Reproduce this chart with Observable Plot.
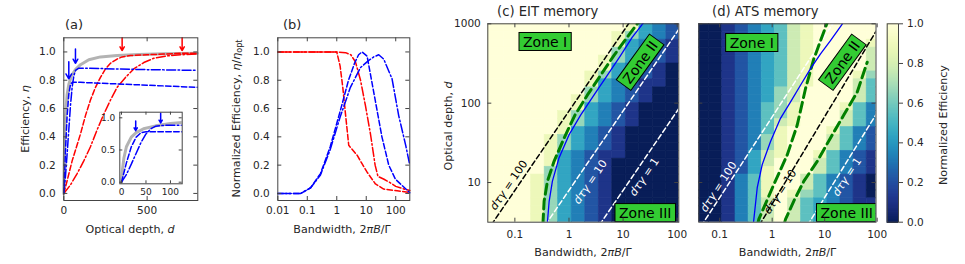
<!DOCTYPE html>
<html><head><meta charset="utf-8">
<script src="https://cdn.jsdelivr.net/npm/d3@7"></script>
<script src="https://cdn.jsdelivr.net/npm/@observablehq/plot@0.6"></script>
<style>
body{margin:0;background:#fff;font-family:"DejaVu Sans",sans-serif;}
#root{position:relative;width:965px;height:264px;overflow:hidden;background:#fff;}
#root svg{position:absolute;left:0;top:0;}
</style></head>
<body><div id="root"></div>
<script>
// ---------------- data ----------------
const aTicksX = [0, 500];
const aTicksY = [0, 0.2, 0.4, 0.6, 0.8, 1.0];
const insetTicksX = [0, 50, 100];
const insetTicksY = [0, 0.5, 1.0];
const bTicksX = [0.01, 0.1, 1, 10, 100];
const hTicksX = [0.1, 1, 10, 100];
const hTicksY = [10, 100, 1000];
const cbTicks = [0, 0.2, 0.4, 0.6, 0.8, 1.0];

// panel (a): [optical depth d, efficiency]
const aGray = [[0,0],[2,0.2],[5,0.38],[10,0.55],[20,0.7],[30,0.77],[45,0.83],[70,0.875],[100,0.91],[150,0.945],[220,0.965],[320,0.975],[450,0.982],[600,0.987],[800,0.99]];
const aRedDash = [[0,0],[20,0.09],[50,0.23],[100,0.42],[130,0.55],[160,0.66],[190,0.75],[220,0.82],[250,0.88],[280,0.92],[320,0.95],[350,0.965],[400,0.975],[500,0.98],[600,0.985],[700,0.99],[800,0.99]];
const aRedDashDot = [[0,0],[40,0.06],[80,0.14],[120,0.23],[160,0.33],[200,0.45],[240,0.56],[280,0.66],[320,0.75],[370,0.82],[420,0.88],[480,0.925],[540,0.955],[620,0.972],[700,0.98],[800,0.985]];
const aBlueDashDot = [[0,0],[10,0.12],[20,0.28],[30,0.45],[40,0.62],[50,0.75],[60,0.83],[70,0.87],[90,0.885],[150,0.885],[300,0.88],[500,0.875],[800,0.87]];
const aBlueDash = [[0,0],[5,0.15],[10,0.3],[20,0.55],[30,0.7],[40,0.77],[50,0.785],[100,0.785],[300,0.775],[500,0.765],[800,0.75]];
const aArrowsBlue = [{d:30, from:0.93, to:0.81}, {d:70, from:1.02, to:0.92}];
const aArrowsRed = [{d:350, from:1.10, to:1.01}, {d:710, from:1.10, to:1.01}];
const insetArrows = [{d:29, from:0.95, to:0.80}, {d:80, from:1.07, to:0.92}];

// panel (b): [bandwidth, normalized efficiency]
const bRedDash = [[0.01,1],[0.1,1],[0.5,1],[1.0,1],[1.3,0.9],[1.6,0.75],[2.0,0.55],[2.55,0.34],[4.9,0.27],[7.2,0.21],[10.7,0.15],[20.5,0.067],[39,0.031],[112,0.019],[300,0.007]];
const bRedDashDot = [[0.01,1],[1.0,1],[2.0,0.995],[3.0,0.98],[4.3,0.93],[6.4,0.8],[9.4,0.62],[13.9,0.42],[20,0.2],[25,0.12],[40,0.1],[60,0.08],[100,0.05],[200,0.03],[300,0.02]];
const bBlueDash = [[0.01,0],[0.06,0],[0.13,0.04],[0.28,0.14],[0.6,0.33],[1.3,0.58],[2.5,0.8],[4.0,0.92],[5.5,0.98],[7.2,1.0],[10.7,0.97],[20.5,0.65],[34,0.4],[58,0.2],[98,0.1],[300,0.005]];
const bBlueDashDot = [[0.01,0],[0.06,0],[0.13,0.04],[0.28,0.13],[0.6,0.31],[1.3,0.54],[2.9,0.75],[6.4,0.89],[12.2,0.94],[18,0.965],[26.5,0.98],[39,0.95],[75,0.81],[126,0.55],[218,0.34],[300,0.2]];

// heat maps: cell edges and efficiency codes (digit/9), rows listed from top (d=1000) to bottom
const bwEdges = [0.02,0.0355,0.0631,0.112,0.2,0.355,0.631,1.12,2.0,3.55,6.31,11.2,20,35.5,63.1,112];
const dEdges = [3.16,3.98,5.01,6.31,7.94,10,12.6,15.8,20,25.1,31.6,39.8,50.1,63.1,79.4,100,126,158,200,251,316,398,501,631,794,1000];
const eitRows = [
"999999999998432","999999999986432","999999999984321","999999999964321","999999999864321",
"999999999843210","999999998643210","999999998432110","999999996432100","999999986432100",
"999999984321000","999999864321000","999999864321000","999999843210000","999998643210000",
"999998643210000","999998432110000","999998432100000","999996432100000","999986432100000",
"999986432100000","999986432100000","999986432100000","999986432100000","999986432100000"];
const atsRows = [
"000123457899999","000123457899999","000123457899998","000123457899997","000123457899997",
"000123457899997","000123457899986","000123457899975","000123467999975","000123467999975",
"000123568999853","000123568999753","000123578999753","000123589998532","000123689997532",
"000123689997532","000124789985321","000124799975321","000124899975321","000135899753210",
"000135899753210","000135898653210","000135797543211","000135797543211","000135797543211"];

// curves on heat maps: [bandwidth, d]
const cBlue = [[0.397,3.0],[0.43,5.8],[0.494,10.4],[0.654,20.4],[1.0,39.8],[1.64,70.8],[2.89,126],[5.1,224],[8.96,398],[14.7,676],[24,1037]];
const cGreen = [[0.33,3.0],[0.347,5.8],[0.40,10.4],[0.53,18.5],[0.81,36.2],[1.29,70.8],[2.18,126],[3.84,224],[6.74,398],[11.9,676],[20.3,1100]];
const cLine100 = [[0.0251,2.0],[15.85,1259]];
const cLine10 = [[0.251,2.0],[158,1259]];
const cLine1 = [[2.51,2.0],[158,126]];
const dBlue = [[0.44,3.1],[0.519,8.6],[0.646,16.8],[0.93,32.8],[1.44,64.4],[2.24,104],[3.46,168],[5.38,272],[8.34,418],[12.9,613],[21.6,991]];
const dGreenL = [[0.53,3.0],[0.557,3.45],[1.075,9.44],[1.94,22.4],[3.0,53],[4.32,153],[6.21,361],[11.2,1037]];
const dGreenR = [[1.72,3.1],[1.80,3.45],[2.58,5.84],[4.01,10.4],[7.21,18.5],[12.9,36.5],[23.1,70.8],[41.7,138],[64.6,328]];
const dLine100 = [[0.0443,2.82],[15.5,1090]];
const dLine10 = [[0.57,2.9],[116,1000]];
const dLine1 = [[4.72,2.9],[110,84]];

// annotations (positions in data units)
const cZones = [{text:"Zone I", b:0.37, d:590, rot:0},{text:"Zone II", b:21.1, d:323, rot:-54},{text:"Zone III", b:26.2, d:4.12, rot:0}];
const dZones = [{text:"Zone I", b:0.417, d:573, rot:0},{text:"Zone II", b:22.2, d:323, rot:-54},{text:"Zone III", b:26.9, d:4.12, rot:0}];
const cLabels = [{n:"100", b:0.078, d:9.2, color:"#000", rot:-55.7},{n:"10", b:2.51, d:10.1, color:"#fff", rot:-55.7},{n:"1", b:25, d:11.7, color:"#fff", rot:-55.7}];
const dLabels = [{n:"100", b:0.096, d:8.75, color:"#fff", rot:-57},{n:"10", b:1.44, d:7.57, color:"#000", rot:-57},{n:"1", b:26.9, d:11.7, color:"#fff", rot:-57}];

// ---------------- helpers ----------------
const root = document.getElementById("root");
const FW = 965, FH = 264;
const AX = "#444";
function fm(l, t, r, b){ return {width: FW, height: FH, marginLeft: l, marginTop: t, marginRight: FW - r, marginBottom: FH - b}; }
const baseStyle = {background: "transparent", fontFamily: "DejaVu Sans, sans-serif", fontSize: "10.5px", color: "#262626", overflow: "visible"};
function inTicks(xt, yt, fw, fh, len) {
  return [
    Plot.tickX(xt, {x: d => d, insetTop: fh - len, stroke: AX}),
    Plot.tickX(xt, {x: d => d, insetBottom: fh - len, stroke: AX}),
    Plot.tickY(yt, {y: d => d, insetLeft: fw - len, stroke: AX}),
    Plot.tickY(yt, {y: d => d, insetRight: fw - len, stroke: AX})
  ];
}
const XY = {x: d => d[0], y: d => d[1]};
const DASH = "5.5,2.4", DASHDOT = "9,2.4,1.6,2.4";
const heatColor = {type: "linear", domain: [0, 1], interpolate: t => d3.interpolateYlGnBu(1 - t)};
function cells(rows) {
  const out = [];
  rows.forEach((row, i) => {
    const r = dEdges.length - 2 - i;
    for (let j = 0; j < row.length; j++) out.push({x1: bwEdges[j], x2: bwEdges[j + 1], y1: dEdges[r], y2: dEdges[r + 1], v: +row[j] / 9});
  });
  return out;
}
const CW = {Z:.685,o:.612,n:.634,e:.615," ":.318,I:.295};
function annot(zones, labels, id) {
  return (index, scales, values, dims) => {
    const {x, y} = scales;
    const g = d3.create("svg:g");
    const w = dims.width - dims.marginLeft - dims.marginRight, h = dims.height - dims.marginTop - dims.marginBottom;
    g.append("clipPath").attr("id", id).append("rect").attr("x", dims.marginLeft).attr("y", dims.marginTop).attr("width", w).attr("height", h);
    const inner = g.append("g").attr("clip-path", `url(#${id})`).attr("font-family", "DejaVu Sans, sans-serif");
    for (const L of labels) {
      const t = inner.append("text").attr("transform", `translate(${x(L.b)},${y(L.d)}) rotate(${L.rot})`)
        .attr("text-anchor", "middle").attr("dy", "0.35em").attr("font-size", 11).attr("fill", L.color);
      t.append("tspan").attr("font-style", "italic").text("dτγ");
      t.append("tspan").text(" = " + L.n);
    }
    for (const z of zones) {
      const fs = 14;
      let tw = 0; for (const ch of z.text) tw += (CW[ch] || 0.6) * fs;
      const bw = tw + 8, bh = 18;
      const zg = inner.append("g").attr("transform", `translate(${x(z.b)},${y(z.d)}) rotate(${z.rot})`);
      zg.append("rect").attr("x", -bw / 2).attr("y", -bh / 2).attr("width", bw).attr("height", bh)
        .attr("fill", "#33cc33").attr("stroke", "#000").attr("stroke-width", 1);
      zg.append("text").attr("text-anchor", "middle").attr("dy", "0.36em").attr("font-size", fs).attr("fill", "#000").text(z.text);
    }
    return g.node();
  };
}

// ---------------- panel (a) ----------------
const aL = 63.3, aT = 37.3, aR = 197.3, aB = 200;
root.appendChild(Plot.plot({
  ...fm(aL, aT, aR, aB), style: baseStyle,
  x: {domain: [0, 804]}, y: {domain: [-0.05, 1.1]},
  marks: [
    Plot.line(aGray, {...XY, stroke: "#b3b3b3", strokeWidth: 3}),
    Plot.line(aRedDash, {...XY, stroke: "#ff0000", strokeWidth: 1.5, strokeDasharray: DASH}),
    Plot.line(aRedDashDot, {...XY, stroke: "#ff0000", strokeWidth: 1.5, strokeDasharray: DASHDOT}),
    Plot.line(aBlueDashDot, {...XY, stroke: "#0000ff", strokeWidth: 1.5, strokeDasharray: DASHDOT}),
    Plot.line(aBlueDash, {...XY, stroke: "#0000ff", strokeWidth: 1.5, strokeDasharray: DASH}),
    Plot.arrow(aArrowsBlue, {x1: "d", x2: "d", y1: "from", y2: "to", stroke: "#0000ff", strokeWidth: 1.5, headLength: 6}),
    Plot.arrow(aArrowsRed, {x1: "d", x2: "d", y1: "from", y2: "to", stroke: "#ff0000", strokeWidth: 1.5, headLength: 6}),
    Plot.frame({stroke: AX}),
    ...inTicks(aTicksX, aTicksY, aR - aL, aB - aT, 4),
    Plot.axisX({ticks: aTicksX, tickSize: 0, tickPadding: 6.5, label: null}),
    Plot.axisY({ticks: aTicksY, tickSize: 0, tickPadding: 8, tickFormat: d3.format(".1f"), label: null})
  ]
}));
// inset
const iL = 119.3, iT = 111.7, iR = 181.7, iB = 183.3;
root.appendChild(Plot.plot({
  ...fm(iL, iT, iR, iB), style: {...baseStyle, fontSize: "9px"},
  x: {domain: [-3.5, 124]}, y: {domain: [-0.025, 1.087]},
  marks: [
    Plot.frame({fill: "#fff", stroke: "none"}),
    Plot.line(aGray, {...XY, stroke: "#b3b3b3", strokeWidth: 3, clip: true}),
    Plot.line(aBlueDashDot, {...XY, stroke: "#0000ff", strokeWidth: 1.5, strokeDasharray: DASHDOT, clip: true}),
    Plot.line(aBlueDash, {...XY, stroke: "#0000ff", strokeWidth: 1.5, strokeDasharray: DASH, clip: true}),
    Plot.arrow(insetArrows, {x1: "d", x2: "d", y1: "from", y2: "to", stroke: "#0000ff", strokeWidth: 1.5, headLength: 5}),
    Plot.frame({stroke: AX}),
    ...inTicks(insetTicksX, insetTicksY, iR - iL, iB - iT, 3),
    Plot.axisX({ticks: insetTicksX, tickSize: 0, tickPadding: 5, label: null}),
    Plot.axisY({ticks: insetTicksY, tickSize: 0, tickPadding: 4.5, tickFormat: d3.format(".1f"), label: null})
  ]
}));

// ---------------- panel (b) ----------------
const bL = 277.3, bT = 37.3, bR = 409.3, bB = 200;
root.appendChild(Plot.plot({
  ...fm(bL, bT, bR, bB), style: baseStyle,
  x: {type: "log", domain: [0.01, 300]}, y: {domain: [-0.05, 1.1]},
  marks: [
    Plot.line(bRedDash, {...XY, stroke: "#ff0000", strokeWidth: 1.5, strokeDasharray: DASH}),
    Plot.line(bRedDashDot, {...XY, stroke: "#ff0000", strokeWidth: 1.5, strokeDasharray: DASHDOT}),
    Plot.line(bBlueDash, {...XY, stroke: "#0000ff", strokeWidth: 1.5, strokeDasharray: DASH}),
    Plot.line(bBlueDashDot, {...XY, stroke: "#0000ff", strokeWidth: 1.5, strokeDasharray: DASHDOT}),
    Plot.frame({stroke: AX}),
    ...inTicks(bTicksX, aTicksY, bR - bL, bB - bT, 4),
    Plot.axisX({ticks: bTicksX, tickSize: 0, tickPadding: 6.5, tickFormat: d3.format("~g"), label: null}),
    Plot.axisY({ticks: aTicksY, tickSize: 0, tickPadding: 8, tickFormat: d3.format(".1f"), label: null})
  ]
}));

// ---------------- heat map panels ----------------
function heatPanel(L, T, R, B, xdom, rows, curves, zones, labels, id, showY) {
  return Plot.plot({
    ...fm(L, T, R, B), style: baseStyle,
    x: {type: "log", domain: xdom, axis: null}, y: {type: "log", domain: [3.162, 1000], axis: null},
    color: heatColor,
    marks: [
      Plot.rect(cells(rows), {x1: "x1", x2: "x2", y1: "y1", y2: "y2", fill: "v", stroke: "v", strokeWidth: 0.6, clip: true}),
      ...curves,
      annot(zones, labels, id),
      Plot.frame({stroke: AX}),
      ...inTicks(hTicksX, hTicksY, R - L, B - T, 4),
      Plot.axisX({ticks: hTicksX, tickSize: 0, tickPadding: 8, tickFormat: d3.format("~g"), label: null}),
      ...(showY ? [Plot.axisY({ticks: hTicksY, tickSize: 0, tickPadding: 7, tickFormat: d3.format("~g"), label: null})] : [])
    ]
  });
}
const cL = 487.3, cT = 23.3, cR = 678.3, cB = 221.7;
root.appendChild(heatPanel(cL, cT, cR, cB, [0.0316, 107], eitRows, [
  Plot.line(cLine100, {...XY, stroke: "#000", strokeWidth: 1.5, strokeDasharray: "5,3", clip: true}),
  Plot.line(cLine10, {...XY, stroke: "#fff", strokeWidth: 1.5, strokeDasharray: "5,3", clip: true}),
  Plot.line(cLine1, {...XY, stroke: "#fff", strokeWidth: 1.5, strokeDasharray: "5,3", clip: true}),
  Plot.line(cGreen, {...XY, stroke: "#008000", strokeWidth: 3, strokeDasharray: "10,5", clip: true}),
  Plot.line(cBlue, {...XY, stroke: "#0000ff", strokeWidth: 1.3, clip: true})
], cZones, cLabels, "clipC", true));

const dL = 698.3, dT = 23.3, dR = 875.5, dB = 221.7;
root.appendChild(heatPanel(dL, dT, dR, dB, [0.04, 95], atsRows, [
  Plot.line(dLine100, {...XY, stroke: "#fff", strokeWidth: 1.5, strokeDasharray: "5,3", clip: true}),
  Plot.line(dLine10, {...XY, stroke: "#000", strokeWidth: 1.5, strokeDasharray: "5,3", clip: true}),
  Plot.line(dLine1, {...XY, stroke: "#fff", strokeWidth: 1.5, strokeDasharray: "5,3", clip: true}),
  Plot.line(dGreenL, {...XY, stroke: "#008000", strokeWidth: 3, strokeDasharray: "10,5", clip: true}),
  Plot.line(dGreenR, {...XY, stroke: "#008000", strokeWidth: 3, strokeDasharray: "10,5", clip: true}),
  Plot.line(dBlue, {...XY, stroke: "#0000ff", strokeWidth: 1.3, clip: true})
], dZones, dLabels, "clipD", false));

// ---------------- colorbar ----------------
const kL = 886.7, kT = 23.3, kR = 898, kB = 221.7;
const cbRamp = d3.range(0, 1.0001, 0.004);
root.appendChild(Plot.plot({
  ...fm(kL, kT, kR, kB), style: baseStyle,
  y: {domain: [0, 1]}, color: heatColor,
  marks: [
    Plot.ruleY(cbRamp, {y: d => d, stroke: d => d, strokeWidth: 1.6}),
    Plot.frame({stroke: AX}),
    Plot.axisY({anchor: "right", ticks: cbTicks, tickSize: 4, tickPadding: 4.5, tickFormat: d3.format(".1f"), stroke: AX, label: null})
  ]
}));

// ---------------- titles and axis labels ----------------
const ov = d3.create("svg").attr("width", FW).attr("height", FH)
  .attr("font-family", "DejaVu Sans, sans-serif").attr("fill", "#262626");
function txt(x, y, parts, opt = {}) {
  const t = ov.append("text").attr("font-size", opt.size || 11.1).attr("text-anchor", opt.anchor || "middle");
  if (opt.rot) t.attr("transform", `translate(${x},${y}) rotate(${opt.rot})`);
  else t.attr("x", x).attr("y", y);
  for (const p of parts) {
    const s = t.append("tspan").text(p.t);
    if (p.i) s.attr("font-style", "italic");
    if (p.sub) s.attr("font-size", 8).attr("dy", 2.5);
  }
}
txt(65, 28.5, [{t: "(a)"}], {size: 13, anchor: "start"});
txt(283, 28.5, [{t: "(b)"}], {size: 13, anchor: "start"});
txt(497, 16, [{t: "(c) EIT memory"}], {size: 13.2, anchor: "start"});
txt(712, 16, [{t: "(d) ATS memory"}], {size: 13.2, anchor: "start"});
txt(130, 233, [{t: "Optical depth, "}, {t: "d", i: true}]);
txt(342, 233, [{t: "Bandwidth, 2"}, {t: "πB", i: true}, {t: "/Γ"}]);
txt(583, 255.5, [{t: "Bandwidth, 2"}, {t: "πB", i: true}, {t: "/Γ"}]);
txt(787.5, 255.5, [{t: "Bandwidth, 2"}, {t: "πB", i: true}, {t: "/Γ"}]);
txt(28.5, 119, [{t: "Efficiency, "}, {t: "η", i: true}], {rot: -90});
txt(239.5, 118.5, [{t: "Normalized Efficiency, "}, {t: "η", i: true}, {t: "/"}, {t: "η", i: true}, {t: "opt", sub: true}], {rot: -90});
txt(451.5, 126, [{t: "Optical depth, "}, {t: "d", i: true}], {rot: -90});
txt(946.5, 125, [{t: "Normalized Efficiency"}], {rot: -90});
root.appendChild(ov.node());
</script>
</body></html>
